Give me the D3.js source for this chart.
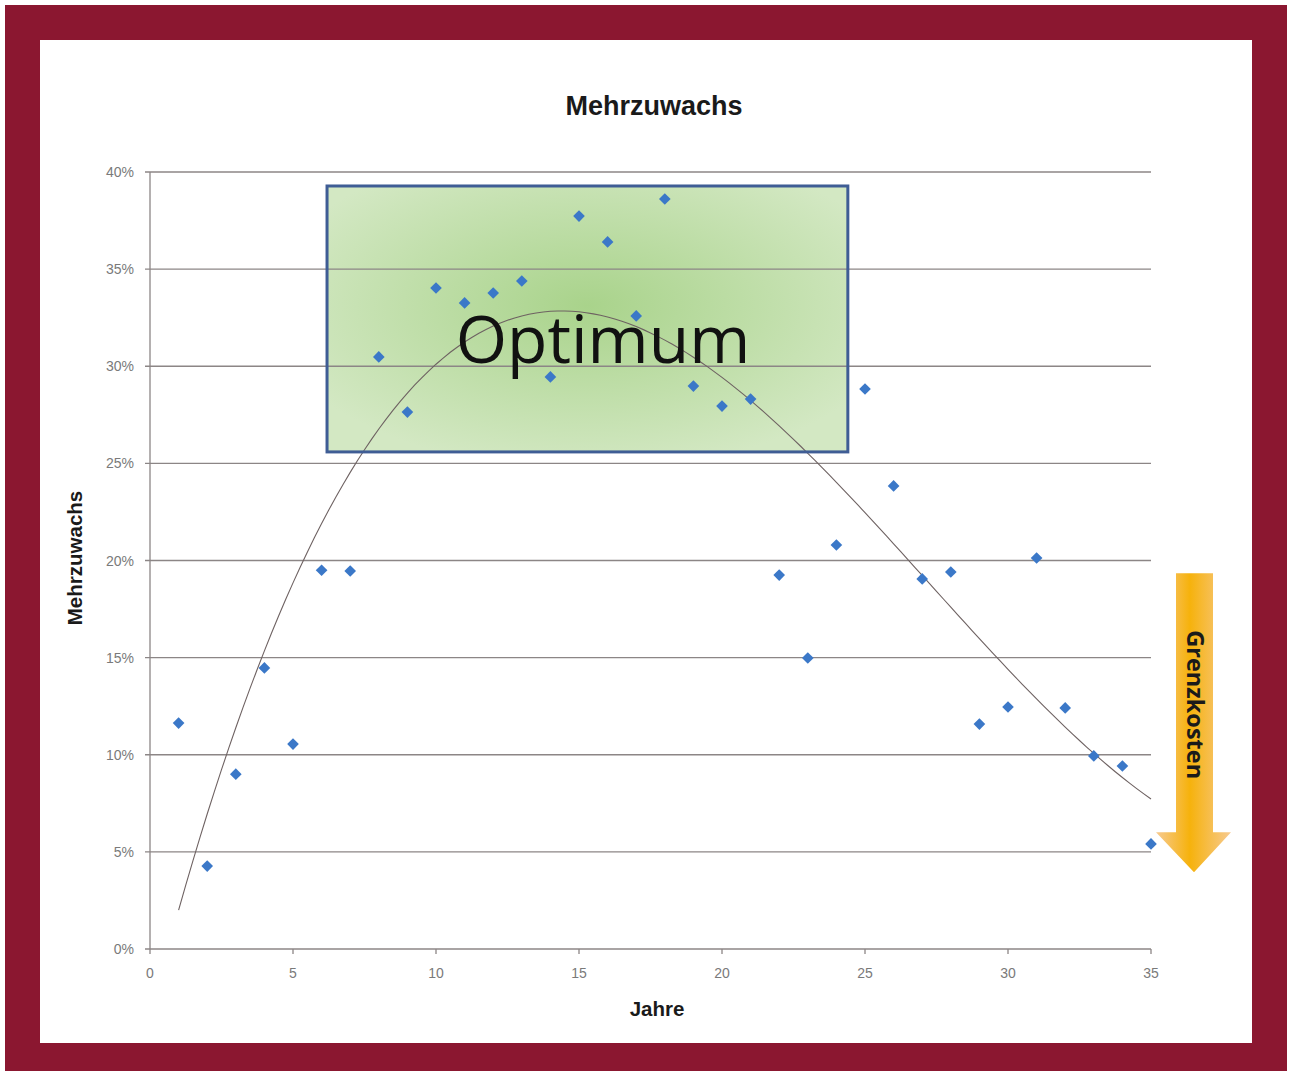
<!DOCTYPE html>
<html>
<head>
<meta charset="utf-8">
<script src="https://cdn.jsdelivr.net/npm/d3@7"></script>
<style>
  body { margin: 0; background: #fff; }
</style>
</head>
<body>
<div id="chart"></div>
<script>
var jahre = [1, 2, 3, 4, 5, 6, 7, 8, 9, 10, 11, 12, 13, 14, 15, 16, 17, 18,
             19, 20, 21, 22, 23, 24, 25, 26, 27, 28, 29, 30, 31, 32, 33, 34, 35];
var zuwachs = [0.1163, 0.0427, 0.0900, 0.1447, 0.1055, 0.1950, 0.1946, 0.3048, 0.2764,
               0.3403, 0.3326, 0.3377, 0.3439, 0.2945, 0.3773, 0.3640, 0.3259, 0.3861,
               0.2898, 0.2795, 0.2831, 0.1925, 0.1498, 0.2080, 0.2883, 0.2384, 0.1905,
               0.1941, 0.1158, 0.1246, 0.2013, 0.1241, 0.0994, 0.0942, 0.0541];
var xTicks = [0, 5, 10, 15, 20, 25, 30, 35];
var yTicks = [0, 0.05, 0.10, 0.15, 0.20, 0.25, 0.30, 0.35, 0.40];
// Optimum-Bereich [x0, x1] in Jahren, [y0, y1] als Anteil
var optimumX = [6.19, 24.4];
var optimumY = [0.2559, 0.3928];
// Grenzkosten-Pfeil (von / bis, als Anteil)
var pfeilY = [0.1935, 0.0395];

var width = 1293, height = 1071;
var svg = d3.select("#chart").append("svg")
    .attr("width", width)
    .attr("height", height);

// Rahmen
svg.append("rect").attr("x", 5).attr("y", 5).attr("width", 1282).attr("height", 1066)
    .attr("fill", "#8b1730");
svg.append("rect").attr("x", 40).attr("y", 40).attr("width", 1212).attr("height", 1003)
    .attr("fill", "#ffffff");

var x = d3.scaleLinear().domain([0, 35]).range([150, 1151]);
var y = d3.scaleLinear().domain([0, 0.4]).range([949, 172]);

var defs = svg.append("defs");
var rg = defs.append("radialGradient").attr("id", "gruen")
    .attr("cx", "0.5").attr("cy", "0.45").attr("r", "0.62");
rg.append("stop").attr("offset", "0%").attr("stop-color", "#a9d38b");
rg.append("stop").attr("offset", "100%").attr("stop-color", "#d3e8c3");

var og = defs.append("linearGradient").attr("id", "orange")
    .attr("x1", "0").attr("x2", "1").attr("y1", "0").attr("y2", "0");
og.append("stop").attr("offset", "0%").attr("stop-color", "#f7ca90");
og.append("stop").attr("offset", "45%").attr("stop-color", "#f6b20c");
og.append("stop").attr("offset", "100%").attr("stop-color", "#f7ca90");

// Optimum-Fläche
svg.append("rect")
    .attr("x", x(optimumX[0])).attr("y", y(optimumY[1]))
    .attr("width", x(optimumX[1]) - x(optimumX[0]))
    .attr("height", y(optimumY[0]) - y(optimumY[1]))
    .attr("fill", "url(#gruen)");

// Gitterlinien
svg.append("g").selectAll("line").data(yTicks).enter().append("line")
    .attr("x1", 145).attr("x2", x(35))
    .attr("y1", function(d) { return y(d); })
    .attr("y2", function(d) { return y(d); })
    .attr("stroke", "#8c8686").attr("stroke-width", 1.3);

svg.append("line").attr("x1", x(0)).attr("x2", x(0)).attr("y1", y(0.4)).attr("y2", y(0))
    .attr("stroke", "#8c8686").attr("stroke-width", 1.3);

svg.append("g").selectAll("line").data(xTicks).enter().append("line")
    .attr("x1", function(d) { return x(d); }).attr("x2", function(d) { return x(d); })
    .attr("y1", y(0)).attr("y2", y(0) + 5)
    .attr("stroke", "#8c8686").attr("stroke-width", 1.3);

svg.append("g").selectAll("text").data(yTicks).enter().append("text")
    .attr("x", 134).attr("y", function(d) { return y(d) + 5; })
    .attr("text-anchor", "end")
    .style("font-family", "Liberation Sans, Arial").style("font-size", "14px")
    .style("fill", "#7a7a7a")
    .text(function(d) { return Math.round(d * 100) + "%"; });

svg.append("g").selectAll("text").data(xTicks).enter().append("text")
    .attr("x", function(d) { return x(d); }).attr("y", 978)
    .attr("text-anchor", "middle")
    .style("font-family", "Liberation Sans, Arial").style("font-size", "14px")
    .style("fill", "#7a7a7a")
    .text(function(d) { return d; });

// Trendlinie: Polynom 3. Grades, kleinste Quadrate über die Messpunkte
function polyFit(xs, ys, order) {
    var n = order + 1;
    var A = [];
    for (var i = 0; i < n; i++) {
        A.push([]);
        for (var j = 0; j <= n; j++) A[i].push(0);
    }
    xs.forEach(function(xv, k) {
        for (var i = 0; i < n; i++) {
            for (var j = 0; j < n; j++) A[i][j] += Math.pow(xv, i + j);
            A[i][n] += ys[k] * Math.pow(xv, i);
        }
    });
    for (var c = 0; c < n; c++) {
        var p = c;
        for (var r = c + 1; r < n; r++) if (Math.abs(A[r][c]) > Math.abs(A[p][c])) p = r;
        var t = A[c]; A[c] = A[p]; A[p] = t;
        for (var r2 = 0; r2 < n; r2++) {
            if (r2 === c) continue;
            var f = A[r2][c] / A[c][c];
            for (var j2 = c; j2 <= n; j2++) A[r2][j2] -= f * A[c][j2];
        }
    }
    return A.map(function(row, i) { return row[n] / row[i]; });
}
var coef = polyFit(jahre, zuwachs, 3);
var trend = d3.range(1, 35.01, 0.25).map(function(t) {
    return [t, coef.reduce(function(s, c, i) { return s + c * Math.pow(t, i); }, 0)];
});
svg.append("path")
    .datum(trend)
    .attr("d", d3.line().x(function(d) { return x(d[0]); }).y(function(d) { return y(d[1]); }))
    .attr("fill", "none").attr("stroke", "#6e6262").attr("stroke-width", 1.1);

// Messpunkte
svg.append("g").selectAll("path").data(jahre).enter().append("path")
    .attr("d", d3.symbol().type(d3.symbolSquare).size(68))
    .attr("transform", function(d, i) {
        return "translate(" + x(d) + "," + y(zuwachs[i]) + ")rotate(45)";
    })
    .attr("fill", "#3b78c8");

// Rahmen Optimum
svg.append("rect")
    .attr("x", x(optimumX[0])).attr("y", y(optimumY[1]))
    .attr("width", x(optimumX[1]) - x(optimumX[0]))
    .attr("height", y(optimumY[0]) - y(optimumY[1]))
    .attr("fill", "none").attr("stroke", "#3f5d95").attr("stroke-width", 3);

svg.append("text")
    .attr("x", 603).attr("y", 363)
    .attr("text-anchor", "middle")
    .style("font-family", "Open Sans, Noto Sans").style("font-size", "66px")
    .style("fill", "#111")
    .text("Optimum");

// Grenzkosten-Pfeil
var ax = 1194, pTop = y(pfeilY[0]), pTip = y(pfeilY[1]), headY = pTip - 40;
svg.append("path")
    .attr("d", "M" + (ax - 18) + "," + pTop + "L" + (ax + 19) + "," + pTop +
               "L" + (ax + 19) + "," + headY + "L" + (ax + 37) + "," + headY +
               "L" + ax + "," + pTip + "L" + (ax - 38) + "," + headY +
               "L" + (ax - 18) + "," + headY + "Z")
    .attr("fill", "url(#orange)");
svg.append("text")
    .attr("transform", "translate(" + (ax - 7) + "," + ((pTop + headY) / 2 + 2) + ")rotate(90)")
    .attr("text-anchor", "middle")
    .style("font-family", "Open Sans, Noto Sans").style("font-size", "23.5px")
    .style("font-weight", "bold").style("fill", "#1a1a1a")
    .text("Grenzkosten");

// Titel und Achsentitel
svg.append("text").attr("x", 654).attr("y", 115).attr("text-anchor", "middle")
    .style("font-family", "Liberation Sans, Arial").style("font-size", "27px")
    .style("font-weight", "bold").style("fill", "#1a1a1a")
    .text("Mehrzuwachs");
svg.append("text").attr("x", 657).attr("y", 1016).attr("text-anchor", "middle")
    .style("font-family", "Liberation Sans, Arial").style("font-size", "20.5px")
    .style("font-weight", "bold").style("fill", "#1a1a1a")
    .text("Jahre");
svg.append("text").attr("transform", "translate(82,558)rotate(-90)")
    .attr("text-anchor", "middle")
    .style("font-family", "Liberation Sans, Arial").style("font-size", "20.5px")
    .style("font-weight", "bold").style("fill", "#1a1a1a")
    .text("Mehrzuwachs");
</script>
</body>
</html>
